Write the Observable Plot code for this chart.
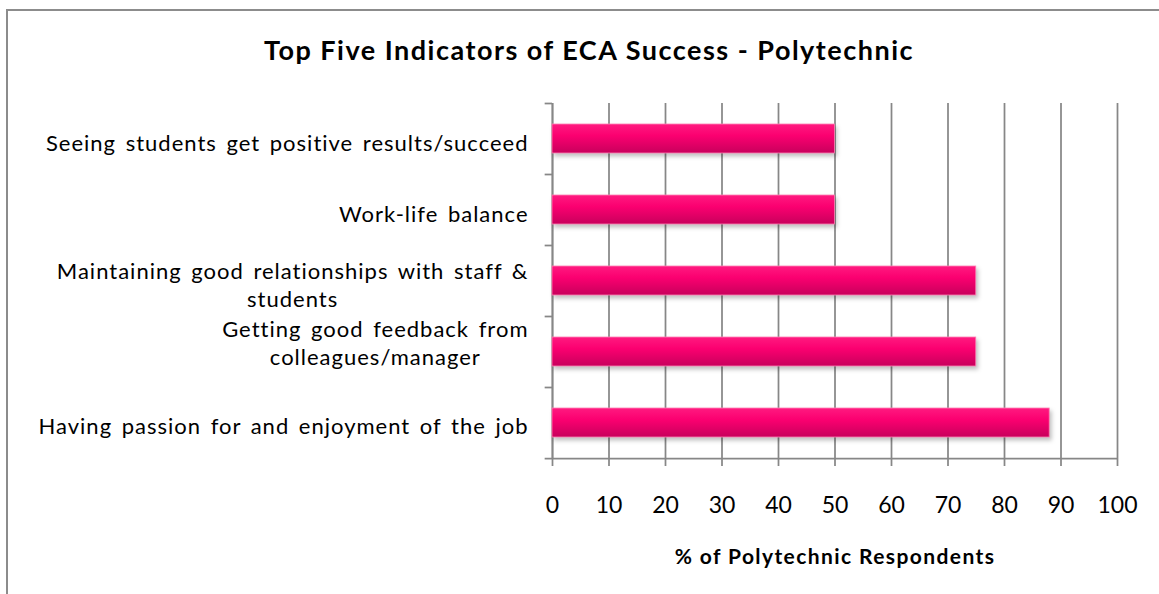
<!DOCTYPE html>
<html><head><meta charset="utf-8">
<script src="https://cdn.jsdelivr.net/npm/d3@7"></script>
<script src="https://cdn.jsdelivr.net/npm/@observablehq/plot@0.6"></script>
<style>
body{margin:0;background:#fff;font-family:Lato,"Open Sans",sans-serif}
#wrap{position:relative;width:1159px;height:594px;overflow:hidden;background:#fff}
#border{position:absolute;left:6px;top:9px;width:1200px;height:700px;border:2px solid #8c8c8c;box-sizing:border-box}
#title{position:absolute;left:0;top:34px;width:1178px;text-align:center;font-weight:bold;font-size:27px;line-height:32px;letter-spacing:1.5px;color:#000;z-index:2}
#chart{position:absolute;left:0;top:0;z-index:1}
#measure{position:absolute;visibility:hidden;white-space:pre;font-family:Lato;letter-spacing:1px;word-spacing:3px}
</style></head><body>
<div id="wrap"><div id="border"></div><div id="title">Top Five Indicators of ECA Success - Polytechnic</div><div id="chart"></div></div>
<span id="measure"></span>
<script>
const categories = [
  "Seeing students get positive results/succeed",
  "Work-life balance",
  "Maintaining good relationships with staff & students",
  "Getting good feedback from colleagues/manager",
  "Having passion for and enjoyment of the job"
];
const categoryLabels = [
  "Seeing students get positive results/succeed",
  "Work-life balance",
  "Maintaining good relationships with staff &\nstudents",
  "Getting good feedback from\ncolleagues/manager",
  "Having passion for and enjoyment of the job"
];
const values = [50, 50, 75, 75, 88];
const xTicks = [0, 10, 20, 30, 40, 50, 60, 70, 80, 90, 100];
const xLabel = "% of Polytechnic Respondents";

const data = categories.map((c, i) => ({cat: c, value: values[i]}));

const W = 1159, H = 594, mt = 103, mb = 136, ml = 552, mr = 42;
const step = (H - mt - mb) / categories.length;
const gridColor = "#878787";
const labelFont = 22;
// small vertical nudges of the category labels, as laid out in the original
const labelNudge = [3, 3, 3, -10, 2];

const meas = document.getElementById("measure");
meas.style.fontSize = labelFont + "px";
const widest = s => Math.max(...s.split("\n").map(l => { meas.textContent = l; return meas.getBoundingClientRect().width; }));

const labelMarks = categories.map((c, i) =>
  Plot.text([categoryLabels[i]], {
    y: () => c, text: d => d, frameAnchor: "left", textAnchor: "middle",
    dx: -24 - widest(categoryLabels[i]) / 2, dy: labelNudge[i],
    fontSize: labelFont, lineHeight: 1.25, fill: "#000"
  })
);

const svg = Plot.plot({
  width: W, height: H,
  marginLeft: ml, marginRight: mr, marginTop: mt, marginBottom: mb,
  style: {background: "transparent", fontFamily: "Lato, sans-serif", color: "#000", overflow: "visible"},
  x: {domain: [0, 100], axis: null},
  y: {domain: categories, paddingInner: 0.59, paddingOuter: 0.295, axis: null},
  marks: [
    Plot.gridX(xTicks, {stroke: gridColor, strokeOpacity: 1, strokeWidth: 1.75}),
    Plot.ruleX([0], {stroke: gridColor, strokeWidth: 1.75}),
    Plot.ruleY(categories, {y: d => d, dy: -step / 2, x1: -1.3, x2: 0, stroke: gridColor, strokeWidth: 1.75}),
    Plot.ruleY(categories.slice(-1), {y: d => d, dy: step / 2, x1: -1.3, x2: 100, stroke: gridColor, strokeWidth: 1.75}),
    Plot.barX(data, {x: "value", y: "cat", fill: "url(#barGrad)", stroke: "#ff7fb3", strokeWidth: 0.8}),
    Plot.axisX(xTicks, {anchor: "bottom", tickSize: 8, tickPadding: 30, fontSize: 23, stroke: gridColor, strokeWidth: 1.75, fill: "#000", tickFormat: d => String(d), label: null}),
    Plot.text([xLabel], {frameAnchor: "bottom", dy: 99, fontWeight: "bold", fontSize: 21, fill: "#000", lineAnchor: "middle"}),
    ...labelMarks
  ]
});

svg.querySelectorAll("text").forEach(t => {
  const s = t.textContent;
  if (s === xLabel) {
    t.style.letterSpacing = "1.4px";
  } else if (categoryLabels.some(l => l.replace("\n", "") === s || l === s)) {
    t.style.letterSpacing = "1px";
    t.style.wordSpacing = "3px";
  }
});

const defs = d3.select(svg).insert("defs", ":first-child");
const g = defs.append("linearGradient").attr("id", "barGrad").attr("x1", 0).attr("y1", 0).attr("x2", 0).attr("y2", 1);
g.append("stop").attr("offset", "0%").attr("stop-color", "#ff1a80");
g.append("stop").attr("offset", "40%").attr("stop-color", "#fb0070");
g.append("stop").attr("offset", "100%").attr("stop-color", "#c8005c");
const barG = svg.querySelector('g[aria-label="bar"]');
if (barG) barG.style.filter = "drop-shadow(2px 3px 2px rgba(0,0,0,0.25))";

document.getElementById("chart").appendChild(svg);
</script>
</body></html>
